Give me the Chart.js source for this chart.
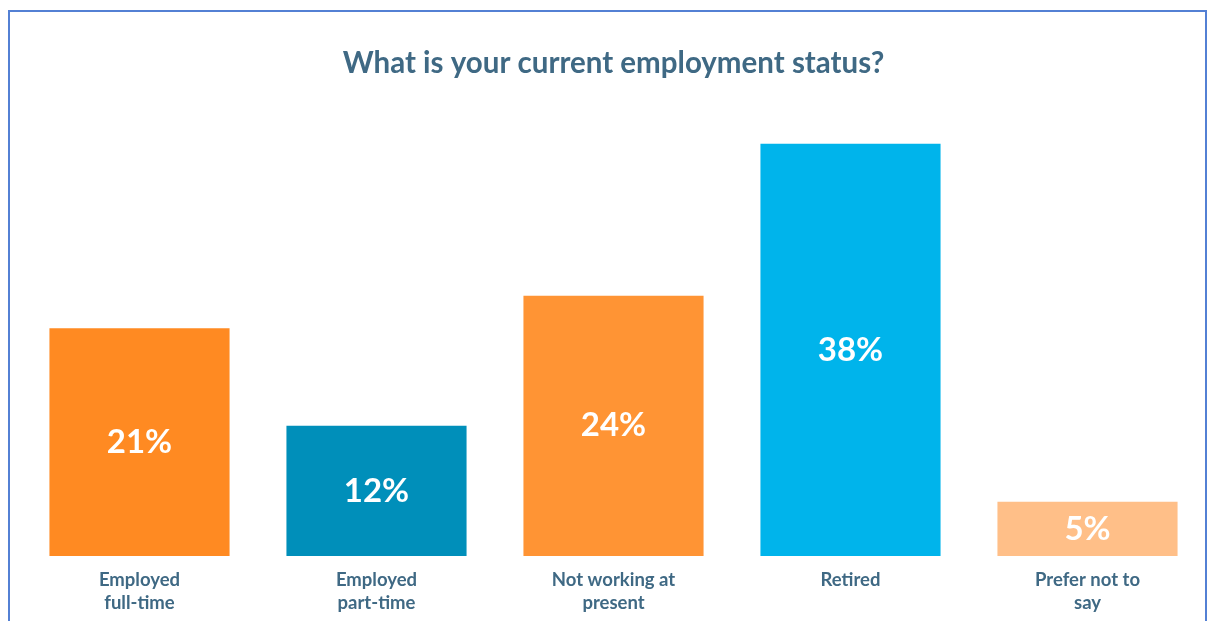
<!DOCTYPE html>
<html>
<head>
<meta charset="utf-8">
<script src="https://cdn.jsdelivr.net/npm/chart.js@4/dist/chart.umd.min.js"></script>
<style>
  html, body { margin: 0; padding: 0; background: #ffffff; }
  #wrap { position: relative; width: 1210px; height: 621px; overflow: hidden; }
  #frame { position: absolute; left: 8px; top: 10px; width: 1199px; height: 640px; border: 2px solid #5380d4; box-sizing: border-box; pointer-events: none; }
  canvas { position: absolute; left: 0; top: 0; }
</style>
</head>
<body>
<div id="wrap">
  <canvas id="c" width="1210" height="621"></canvas>
  <div id="frame"></div>
</div>
<script>
const title = "What is your current employment status?";
const categories = [
  ["Employed", "full-time"],
  ["Employed", "part-time"],
  ["Not working at", "present"],
  ["Retired"],
  ["Prefer not to", "say"]
];
const values = [21, 12, 24, 38, 5];
const valueLabels = ["21%", "12%", "24%", "38%", "5%"];
const barColors = ["#FF8A22", "#008FBA", "#FF9434", "#00B4EB", "#FFBF88"];

const textColor = "#3f6984";
const fontFamily = "Lato, 'Open Sans', sans-serif";

const valueLabelPlugin = {
  id: "valueLabels",
  afterDatasetsDraw(chart) {
    const ctx = chart.ctx;
    const meta = chart.getDatasetMeta(0);
    ctx.save();
    ctx.fillStyle = "#ffffff";
    ctx.font = "bold 33px " + fontFamily;
    ctx.textAlign = "center";
    ctx.textBaseline = "middle";
    meta.data.forEach((bar, i) => {
      const p = bar.getProps(["x", "y", "base"], true);
      ctx.fillText(valueLabels[i], p.x, (p.y + p.base) / 2);
    });
    ctx.restore();
  }
};

new Chart(document.getElementById("c"), {
  type: "bar",
  data: {
    labels: categories,
    datasets: [{
      data: values,
      backgroundColor: barColors,
      borderWidth: 0,
      categoryPercentage: 0.76,
      barPercentage: 1.0
    }]
  },
  options: {
    responsive: false,
    animation: false,
    devicePixelRatio: 1,
    layout: { padding: { left: 21, right: 4, top: 0, bottom: -6 } },
    plugins: {
      legend: { display: false },
      tooltip: { enabled: false },
      title: {
        display: true,
        text: title,
        color: textColor,
        font: { family: fontFamily, size: 29.5, weight: "bold", lineHeight: 1.2 },
        padding: { top: 46, bottom: 19 }
      }
    },
    scales: {
      x: {
        grid: { display: false, drawTicks: false },
        border: { display: false },
        ticks: {
          color: textColor,
          font: { family: fontFamily, size: 18.5, weight: "bold", lineHeight: "23px" },
          padding: 12.5,
          maxRotation: 0,
          autoSkip: false
        }
      },
      y: {
        display: false,
        min: 0,
        max: 42
      }
    }
  },
  plugins: [valueLabelPlugin]
});
</script>
</body>
</html>
